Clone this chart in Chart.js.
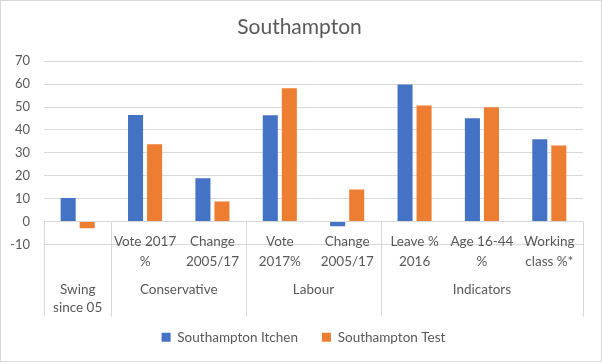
<!DOCTYPE html>
<html>
<head>
<meta charset="utf-8">
<title>Southampton</title>
<script src="https://cdn.jsdelivr.net/npm/chart.js@4"></script>
<style>
  html, body { margin: 0; padding: 0; background: #fff; }
  canvas { display: block; }
</style>
</head>
<body>
<canvas id="chart" width="602" height="362"></canvas>
<script>
// category labels (two lines each) and the groups they sit under
const subLabels = [
    [""],
    ["Vote 2017", "%"],
    ["Change", "2005/17"],
    ["Vote", "2017%"],
    ["Change", "2005/17"],
    ["Leave %", "2016"],
    ["Age 16-44", "%"],
    ["Working", "class %*"]
];
const groupNames = [["Swing", "since 05"], ["Conservative"], ["Labour"], ["Indicators"]];
const groupSizes = [1, 2, 2, 3];

// values
const itchen = [10.3, 46.5, 18.9, 46.4, -2.0, 59.8, 45.1, 35.9];
const test = [-2.9, 33.7, 8.8, 58.2, 14.0, 50.7, 49.9, 33.2];

const yTicks = [-10, 0, 10, 20, 30, 40, 50, 60, 70];

const grey = "#595959";
const gridGrey = "#D9D9D9";
const font = "Lato";

// draws the 2 level category axis under the zero line
const groupAxis = {
    id: "groupAxis",
    afterLayout(chart) {
        // title and legend are centred inside the right padding, push them back
        chart.titleBlock.left += 8;
        chart.titleBlock.right += 8;
        chart.legend.left += 12;
        chart.legend.right += 12;
    },
    beforeDraw(chart) {
        const ctx = chart.ctx;
        ctx.save();
        ctx.strokeStyle = gridGrey;
        ctx.lineWidth = 1;
        ctx.strokeRect(0.5, 0.5, chart.width - 1, chart.height - 1);
        ctx.restore();
    },
    afterDatasetsDraw(chart) {
        const ctx = chart.ctx;
        const x = chart.scales.x;
        const y0 = chart.scales.y.getPixelForValue(0);
        const half = (x.getPixelForValue(1) - x.getPixelForValue(0)) / 2;
        const bottom = y0 + 95;

        ctx.save();
        ctx.strokeStyle = gridGrey;
        ctx.lineWidth = 1;

        // separators between groups
        let idx = 0;
        const edges = [x.getPixelForValue(0) - half];
        groupSizes.forEach(n => {
            idx += n;
            edges.push(x.getPixelForValue(idx - 1) + half);
        });
        edges.forEach(px => {
            const p = Math.round(px) + 0.5;
            ctx.beginPath();
            ctx.moveTo(p, y0);
            ctx.lineTo(p, bottom);
            ctx.stroke();
        });

        ctx.fillStyle = grey;
        ctx.textAlign = "center";
        ctx.textBaseline = "alphabetic";
        ctx.font = "13.5px " + font;

        // sub labels
        subLabels.forEach((lines, i) => {
            const cx = x.getPixelForValue(i);
            lines.forEach((t, j) => {
                ctx.fillText(t, cx, y0 + 24.5 + j * 19.5);
            });
        });

        // group labels
        for (let g = 0; g < groupNames.length; g++) {
            const cx = (edges[g] + edges[g + 1]) / 2;
            groupNames[g].forEach((t, j) => {
                ctx.fillText(t, cx, y0 + 72.5 + j * 18);
            });
        }
        ctx.restore();
    }
};

new Chart(document.getElementById("chart"), {
    type: "bar",
    data: {
        labels: subLabels.map(l => l.join(" ")),
        datasets: [
            {
                label: "Southampton Itchen",
                data: itchen,
                backgroundColor: "#4472C4",
                categoryPercentage: 0.565,
                barPercentage: 0.79
            },
            {
                label: "Southampton Test",
                data: test,
                backgroundColor: "#ED7D31",
                categoryPercentage: 0.565,
                barPercentage: 0.79
            }
        ]
    },
    options: {
        responsive: false,
        animation: false,
        devicePixelRatio: 1,
        layout: {
            padding: { left: 0, right: 19, top: 0, bottom: 8 }
        },
        plugins: {
            title: {
                display: true,
                text: "Southampton",
                color: grey,
                font: { family: font, size: 21, weight: "normal" },
                padding: { top: 15, bottom: 21 }
            },
            legend: {
                position: "bottom",
                labels: {
                    color: grey,
                    font: { family: font, size: 13.5 },
                    boxWidth: 9,
                    boxHeight: 9,
                    padding: 24
                }
            },
            tooltip: { enabled: false }
        },
        scales: {
            x: {
                ticks: { display: false },
                grid: { display: false },
                border: { display: false },
                afterFit(scale) { scale.height = 62; }
            },
            y: {
                min: -10,
                max: 70,
                afterBuildTicks(scale) {
                    scale.ticks = yTicks.map(v => ({ value: v }));
                },
                ticks: {
                    color: grey,
                    font: { family: font, size: 13 },
                    padding: 14
                },
                grid: { color: gridGrey, drawTicks: false },
                border: { display: false },
                afterFit(scale) { scale.width = 44; }
            }
        }
    },
    plugins: [groupAxis]
});
</script>
</body>
</html>
